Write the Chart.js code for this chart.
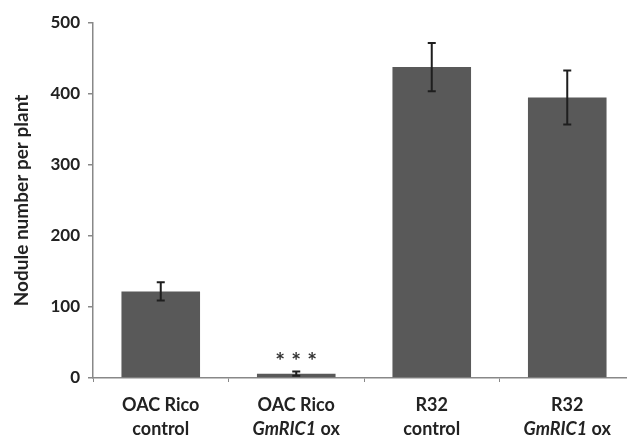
<!DOCTYPE html>
<html>
<head>
<meta charset="utf-8">
<script src="https://cdn.jsdelivr.net/npm/chart.js@4"></script>
<style>
    html, body { margin: 0; padding: 0; background: #fff; overflow: hidden; }
    #wrap { width: 627px; height: 437px; overflow: hidden; }
</style>
</head>
<body>
<div id="wrap"><canvas id="noduleChart" width="635" height="437" style="width:635px;height:437px"></canvas></div>
<script>
// line 1 / line 2 of each x label; gene names are set in italics
const lines1 = ['OAC Rico', 'OAC Rico', 'R32', 'R32'];
const genes = ['', 'GmRIC1', '', 'GmRIC1'];
const lines2 = ['control', ' ox', 'control', ' ox'];
const nodules = [122, 6, 438, 395];
const errors = [13, 3, 34, 38];
const stars = [0, 3, 0, 0];

const FONT = 'Lato, "Liberation Sans", sans-serif';

const extras = {
    id: 'extras',
    afterDatasetsDraw(chart) {
        const ctx = chart.ctx;
        const x = chart.scales.x;
        const y = chart.scales.y;
        ctx.save();
        // error bars
        ctx.strokeStyle = '#1e1e1e';
        ctx.lineWidth = 2;
        nodules.forEach(function (v, i) {
            const cx = x.getPixelForValue(i);
            const top = y.getPixelForValue(v + errors[i]);
            const bot = y.getPixelForValue(v - errors[i]);
            ctx.beginPath();
            ctx.moveTo(cx, top); ctx.lineTo(cx, bot);
            ctx.moveTo(cx - 4, top); ctx.lineTo(cx + 4, top);
            ctx.moveTo(cx - 4, bot); ctx.lineTo(cx + 4, bot);
            ctx.stroke();
            // significance stars
            ctx.fillStyle = '#333';
            ctx.font = 'bold 23px ' + FONT;
            ctx.textAlign = 'center';
            ctx.textBaseline = 'alphabetic';
            for (let k = 0; k < stars[i]; k++) {
                ctx.fillText('*', cx + (k - (stars[i] - 1) / 2) * 16, top - 3);
            }
        });
        // two-line category labels
        ctx.fillStyle = '#222';
        ctx.textBaseline = 'middle';
        lines1.forEach(function (l1, i) {
            const cx = x.getPixelForValue(i);
            ctx.textAlign = 'center';
            ctx.font = 'bold 18px ' + FONT;
            ctx.fillText(l1, cx, 405);
            const it = 'italic bold 18px ' + FONT;
            const rg = 'bold 18px ' + FONT;
            ctx.font = it;
            const w1 = ctx.measureText(genes[i]).width;
            ctx.font = rg;
            const w2 = ctx.measureText(lines2[i]).width;
            let left = cx - (w1 + w2) / 2;
            ctx.textAlign = 'left';
            ctx.font = it;
            ctx.fillText(genes[i], left, 429);
            ctx.font = rg;
            ctx.fillText(lines2[i], left + w1, 429);
        });
        ctx.restore();
    }
};

new Chart(document.getElementById('noduleChart'), {
    type: 'bar',
    data: {
        labels: lines1.map((l, i) => l + ' ' + genes[i] + lines2[i]),
        datasets: [{
            data: nodules,
            backgroundColor: '#595959',
            borderWidth: 0,
            categoryPercentage: 1,
            barPercentage: 0.58
        }]
    },
    options: {
        responsive: false,
        animation: false,
        layout: { padding: { top: 23, right: 0, left: 0, bottom: 0 } },
        plugins: { legend: { display: false }, tooltip: { enabled: false } },
        scales: {
            x: {
                grid: { offset: true, drawOnChartArea: false, drawTicks: true, tickLength: 4, color: '#888', lineWidth: 1 },
                border: { color: '#888', width: 1.5 },
                ticks: { display: false },
                afterFit(s) { s.height = 59; }
            },
            y: {
                min: 0,
                max: 500,
                grid: { drawOnChartArea: false, drawTicks: true, tickLength: 5, color: '#888', lineWidth: 1.5 },
                border: { color: '#888', width: 1.5 },
                ticks: {
                    stepSize: 100,
                    padding: 8,
                    color: '#222',
                    font: { family: FONT, size: 17, weight: 'bold' }
                },
                title: {
                    display: true,
                    text: 'Nodule number per plant',
                    color: '#222',
                    font: { family: FONT, size: 19, weight: 'bold' },
                    padding: { top: 10, bottom: 0 }
                },
                afterFit(s) { s.width = 93; }
            }
        }
    },
    plugins: [extras]
});
</script>
</body>
</html>
